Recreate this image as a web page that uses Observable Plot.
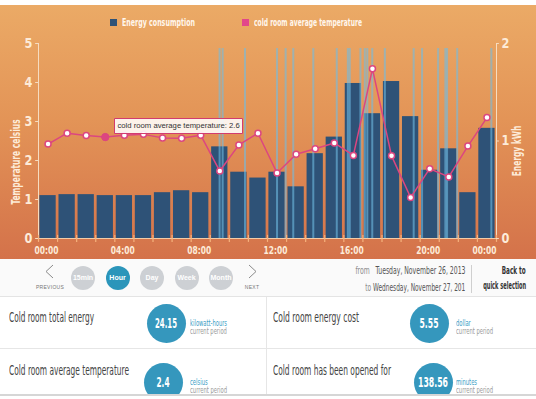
<!DOCTYPE html>
<html>
<head>
<meta charset="utf-8">
<script src="https://cdn.jsdelivr.net/npm/d3@7"></script>
<script src="https://cdn.jsdelivr.net/npm/@observablehq/plot@0.6"></script>
<style>
  html, body { margin: 0; padding: 0; background: #fff; }
  body { width: 536px; height: 399px; overflow: hidden; position: relative;
         font-family: "Liberation Sans Narrow", "DejaVu Sans Condensed", "Liberation Sans", sans-serif; }
  .abs { position: absolute; white-space: nowrap; }
  #panel { position: absolute; left: 0; top: 5px; width: 536px; height: 254px;
           background: linear-gradient(#ebaa66 0%, #e39457 45%, #d4724a 100%); }
  #chart { position: absolute; left: 0; top: 0; }
  .lg i { position: absolute; width: 7px; height: 7px; left: 0; top: 3px; }
  .lg span { position: absolute; left: 12px; top: 0; font-size: 11px; font-weight: bold; color: #fff6ec;
             line-height: 13px; white-space: nowrap; transform-origin: left center; }
  #controls { position: absolute; left: 0; top: 259px; width: 536px; height: 37px; background: #fafafa;
              border-bottom: 1px solid #e4e4e4; }
  .btn { position: absolute; width: 24px; height: 24px; border-radius: 50%; background: #cdd0d4; color: #fff;
         font: bold 7px "Liberation Sans", sans-serif; line-height: 24px; text-align: center; }
  .btn span { display: inline-block; }
  .btn.on { background: #2b95ba; }
  .tiny { position: absolute; font: 5px "Liberation Sans", sans-serif; color: #777; letter-spacing: 0.3px;
          transform: translateX(-50%); white-space: nowrap; }
  .dates { position: absolute; right: 71px; text-align: right; font-size: 10.5px; color: #555; line-height: 12px;
           white-space: nowrap; transform-origin: right center; }
  .dates .g { color: #8a8a8a; }
  .back { position: absolute; right: 10px; text-align: right; font-size: 10.5px; font-weight: bold; color: #333;
          line-height: 12px; white-space: nowrap; transform-origin: right center; }
  .line { position: absolute; background: #e6e6e6; }
  .ctitle { position: absolute; font-size: 14px; color: #444; line-height: 16px; white-space: nowrap;
            transform-origin: left center; }
  .circ { position: absolute; width: 39px; height: 39px; border-radius: 50%; background: #3597bd; color: #fff;
          line-height: 39px; }
  .circ span { position: absolute; left: 50%; top: 0; white-space: nowrap; font-size: 13.5px; font-weight: bold;
               transform-origin: center center; }
  .unit { position: absolute; font-size: 8px; line-height: 8.5px; white-space: nowrap; transform-origin: left center; }
  .unit .u { color: #3a9cc4; }
  .unit .p { color: #9a9a9a; }
</style>
</head>
<body>
<div id="panel">
  <div id="chart"></div>
  <div class="abs lg" style="left:110px;top:11px"><i style="background:#2e5277"></i><span id="lg1">Energy consumption</span></div>
  <div class="abs lg" style="left:242px;top:11px"><i style="background:#e2478a"></i><span id="lg2">cold room average temperature</span></div>
</div>
<div id="controls"></div>
<div id="cards"></div>
<script>
// ---------------- data ----------------
const hourStarts = [0,1,2,3,4,5,6,7,8,9,10,11,12,13,14,15,16,17,18,19,20,21,22,23];
const energyKWh = [0.44,0.45,0.45,0.44,0.44,0.44,0.47,0.49,0.47,0.94,0.68,0.62,0.68,0.53,0.87,1.04,1.59,1.28,1.61,1.25,0.70,0.92,0.47,1.13];
const avgTempC  = [2.42,2.70,2.64,2.60,2.65,2.67,2.58,2.57,2.65,1.73,2.40,2.70,1.68,2.16,2.30,2.45,2.13,4.35,2.12,1.05,1.79,1.58,2.37,3.10];
const doorOpenHours = [9.49,9.65,10.82,12.50,12.95,13.35,14.40,15.63,16.21,16.31,16.87,17.10,17.23,17.49,18.15,19.66,20.10,20.94,21.32,21.41,21.94,23.73];
const highlightedHour = 3;
const xTickHours = [0,4,8,12,16,20,24];
const xTickLabels = ["00:00","04:00","08:00","12:00","16:00","20:00","00:00"];
const hourTicks = [0,1,2,3,4,5,6,7,8,9,10,11,12,13,14,15,16,17,18,19,20,21,22,23,24];
const tempTicks = [0,1,2,3,4,5];
const energyTicks = [0,1,2];
const tempAxisMax = 5, energyAxisMax = 2;
const tooltipLabel = "cold room average temperature";

const periodButtons = ["15min","Hour","Day","Week","Month"];
const activeButton = "Hour";
const fromDate = "Tuesday, November 26, 2013";
const toDate = "Wednesday, November 27, 201";
const cardTitles = ["Cold room total energy","Cold room energy cost","Cold room average temperature","Cold room has been opened for"];
const cardValues = ["24.15","5.55","2.4","138.56"];
const cardUnits = ["kilowatt-hours","dollar","celsius","minutes"];

// ---------------- chart ----------------
const k = tempAxisMax / energyAxisMax;
const bars = hourStarts.map((h, i) => ({h, h2: h + 1, e: energyKWh[i] * k}));
const temps = hourStarts.map((h, i) => ({hm: h + 0.5, t: avgTempC[i]}));
const hl = [temps[highlightedHour]];
const labels = xTickHours.map((h, i) => ({h, label: xTickLabels[i]}));
const cream = "#fdebd8";
const axisCol = "#f6dcc0";
const pink = "#dc4680";
const font = '"Liberation Sans Narrow", "DejaVu Sans Condensed", "Liberation Sans", sans-serif';

const marks = [
  Plot.rectY(bars, {x1: "h", x2: "h2", y: "e", fill: "#2e5277", insetLeft: 1.4, insetRight: 1.4}),
  Plot.ruleX(doorOpenHours, {x: d => d, y1: 0, y2: 4.87, stroke: "#6fbde3", strokeOpacity: 0.6, strokeWidth: 2}),
  Plot.ruleY([0], {stroke: "#f3cba6", strokeWidth: 1}),
  Plot.ruleX([0], {y1: 0, y2: tempAxisMax, stroke: axisCol, strokeWidth: 1}),
  Plot.ruleX([24], {y1: 0, y2: tempAxisMax, stroke: axisCol, strokeWidth: 1}),
  Plot.ruleX(hourTicks, {x: d => d, y1: -0.1, y2: 0.08, stroke: "#f6b27c", strokeWidth: 1.2}),
  Plot.ruleY(tempTicks, {y: d => d, x1: -0.15, x2: 0, stroke: axisCol}),
  Plot.ruleY(energyTicks, {y: d => d * k, x1: 24, x2: 24.15, stroke: axisCol}),
  Plot.line(temps, {x: "hm", y: "t", stroke: pink, strokeWidth: 1.5}),
  Plot.dot(temps, {x: "hm", y: "t", r: 3, fill: "white", stroke: pink, strokeWidth: 1.5}),
  Plot.dot(hl, {x: "hm", y: "t", r: 3.6, fill: pink, stroke: pink, strokeWidth: 1}),
  Plot.text(tempTicks, {x: 0, y: d => d, text: d => String(d), dx: -6, textAnchor: "end", fill: cream,
    fontSize: 14, fontWeight: "bold", ariaDescription: "ylab"}),
  Plot.text(energyTicks, {x: 24, y: d => d * k, text: d => String(d), dx: 5, textAnchor: "start", fill: cream,
    fontSize: 14, fontWeight: "bold", ariaDescription: "ylab"}),
  Plot.text(labels.slice(0, -1), {x: "h", y: 0, text: "label", dx: 8, dy: 12, fill: cream,
    fontSize: 11, fontWeight: "bold", ariaDescription: "xlab"}),
  Plot.text(labels.slice(-1), {x: "h", y: 0, text: "label", dy: 12, textAnchor: "end", fill: cream,
    fontSize: 11, fontWeight: "bold", ariaDescription: "xlab"}),
  Plot.text(["Temperature celsius"], {frameAnchor: "left", textAnchor: "middle", text: d => d, rotate: -90, dx: -23, dy: 21,
    fill: cream, fontSize: 13, fontWeight: "bold", ariaDescription: "title"}),
  Plot.text(["Energy kWh"], {frameAnchor: "right", textAnchor: "middle", text: d => d, rotate: -90, dx: 20, dy: 10,
    fill: cream, fontSize: 13, fontWeight: "bold", ariaDescription: "title"})
];
if (typeof Plot.tip === "function") {
  marks.push(Plot.tip(hl, {x: "hm", y: "t", title: d => `${tooltipLabel}: ${d.t.toFixed(1)}`,
    anchor: "bottom-left", pointerSize: 0, dx: 9, dy: -4, fill: "rgba(255,255,255,0.88)", stroke: "#d23c6e",
    strokeWidth: 1, fontSize: 7.7, textPadding: 3, fontFamily: '"Liberation Sans", Arial, sans-serif', pathFilter: "none"}));
}

const chart = Plot.plot({
  width: 536, height: 254,
  marginLeft: 38, marginRight: 40, marginTop: 38, marginBottom: 21,
  style: {background: "transparent", fontFamily: font, overflow: "visible", color: "#333"},
  x: {domain: [0, 24], axis: null},
  y: {domain: [0, tempAxisMax], axis: null},
  marks
});
document.getElementById("chart").appendChild(chart);

// condense SVG texts to the narrow face of the reference
function squeeze(desc, f) {
  chart.querySelectorAll(`g[aria-description="${desc}"] text`).forEach(t => {
    const w = t.getComputedTextLength();
    t.setAttribute("textLength", w * f);
    t.setAttribute("lengthAdjust", "spacingAndGlyphs");
  });
}
squeeze("title", 0.64);
squeeze("xlab", 0.76);
squeeze("ylab", 0.9);

// condense HTML texts to a target width
function fit(el, target, pre = "") {
  el.style.transform = pre || "none";
  const w = el.getBoundingClientRect().width;
  if (w > 0) el.style.transform = `${pre} scaleX(${target / w})`;
}
fit(document.getElementById("lg1"), 73);
fit(document.getElementById("lg2"), 108);

// ---------------- controls ----------------
const controls = document.getElementById("controls");
const btnX = [83, 117.5, 152, 186.5, 221];
periodButtons.forEach((b, i) => {
  const el = document.createElement("div");
  el.className = "btn" + (b === activeButton ? " on" : "");
  el.style.left = (btnX[i] - 12) + "px";
  el.style.top = (278 - 259 - 12) + "px";
  el.innerHTML = `<span>${b}</span>`;
  controls.appendChild(el);
});
controls.insertAdjacentHTML("beforeend", `
  <svg class="abs" style="left:0;top:0" width="536" height="37">
    <polyline points="53,6 46,12.5 53,19" fill="none" stroke="#8a8a8a" stroke-width="1"/>
    <polyline points="249,6 256,12.5 249,19" fill="none" stroke="#8a8a8a" stroke-width="1"/>
    <line x1="471.5" y1="6" x2="471.5" y2="34" stroke="#cfcfcf"/>
  </svg>
  <div class="tiny" style="left:50px;top:25px">PREVIOUS</div>
  <div class="tiny" style="left:252px;top:25px">NEXT</div>
  <div class="dates" id="d1" style="top:5px"><span class="g">from</span>&nbsp;&nbsp; ${fromDate}</div>
  <div class="dates" id="d2" style="top:22px"><span class="g">to</span> ${toDate}</div>
  <div class="back" id="b1" style="top:5px">Back to</div>
  <div class="back" id="b2" style="top:20px">quick selection</div>
`);
fit(document.getElementById("d1"), 110);
fit(document.getElementById("d2"), 100);
fit(document.getElementById("b1"), 24);
fit(document.getElementById("b2"), 43);

// ---------------- cards ----------------
const cards = document.getElementById("cards");
cards.insertAdjacentHTML("beforeend", `
  <div class="line" style="left:266px;top:297px;width:1px;height:97px"></div>
  <div class="line" style="left:0;top:348px;width:536px;height:1px"></div>
`);
const cardPos = [
  {tx: 8.5, ty: 317, cx: 166, cy: 323, ux: 190, uy: 324, tw: 85, vw: 22},
  {tx: 273, ty: 317, cx: 429, cy: 323, ux: 456, uy: 324, tw: 86, vw: 19},
  {tx: 8.5, ty: 370, cx: 163, cy: 382, ux: 190, uy: 383, tw: 120, vw: 13},
  {tx: 273, ty: 370, cx: 433, cy: 382, ux: 456, uy: 383, tw: 118, vw: 30}
];
cardTitles.forEach((t, i) => {
  const p = cardPos[i];
  cards.insertAdjacentHTML("beforeend", `
    <div class="ctitle abs" id="ct${i}" style="left:${p.tx}px;top:${p.ty - 8}px">${t}</div>
    <div class="circ" style="left:${p.cx - 19.5}px;top:${p.cy - 19.5}px"><span id="cv${i}">${cardValues[i]}</span></div>
    <div class="unit abs" id="cu${i}" style="left:${p.ux}px;top:${p.uy - 4.5}px"><div class="u">${cardUnits[i]}</div><div class="p">current period</div></div>
  `);
  fit(document.getElementById(`ct${i}`), p.tw);
  fit(document.getElementById(`cv${i}`), p.vw, "translateX(-50%)");
  fit(document.getElementById(`cu${i}`), 37);
});
cards.insertAdjacentHTML("beforeend", `
  <div style="position:absolute;left:0;top:394px;width:536px;height:5px;background:#fff;border-top:2px solid #d6d6d6"></div>
`);
</script>
</body>
</html>
